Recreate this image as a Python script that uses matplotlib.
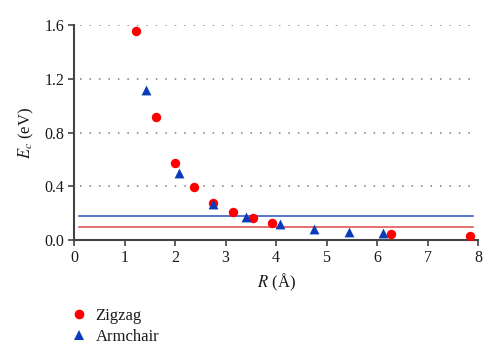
import matplotlib.pyplot as plt
from matplotlib.lines import Line2D

plt.rcParams['font.family'] = ['Liberation Serif', 'DejaVu Serif']
plt.rcParams['mathtext.fontset'] = 'stix'

# data
zigzag_R = [1.23, 1.62, 2.00, 2.38, 2.76, 3.15, 3.55, 3.93, 6.28, 7.85]
zigzag_E = [1.56, 0.92, 0.575, 0.395, 0.275, 0.208, 0.166, 0.128, 0.049, 0.030]
armchair_R = [1.42, 2.07, 2.75, 3.41, 4.08, 4.76, 5.44, 6.11]
armchair_E = [1.12, 0.50, 0.27, 0.175, 0.118, 0.084, 0.062, 0.057]
armchair_level = 0.178
zigzag_level = 0.096
line_span = [0.1, 7.9]

fig = plt.figure(figsize=(5.0, 3.59), dpi=100)
ax = fig.add_axes([0.148, 0.331, 0.808, 0.599])

for y in [0.4, 0.8, 1.2, 1.6]:
    ax.plot([0.12, 7.92], [y, y], color='#7a7a7a', lw=1.1, ls=(0, (1, 5.2)), zorder=1)

ax.plot(line_span, [armchair_level] * 2, color='#2b4fc0', lw=1.1, zorder=2)
ax.plot(line_span, [zigzag_level] * 2, color='#e04848', lw=1.1, zorder=2)

ax.scatter(zigzag_R, zigzag_E, s=46, marker='o', color='#ff0000', zorder=3, linewidths=0)
ax.scatter(armchair_R, armchair_E, s=50, marker='^', color='#0a3bb8', zorder=4, linewidths=0)

ax.set_xlim(0, 8)
ax.set_ylim(0, 1.6)
ax.set_xticks(range(0, 9))
ax.set_yticks([0.0, 0.4, 0.8, 1.2, 1.6])
ax.set_yticklabels(['0.0', '0.4', '0.8', '1.2', '1.6'])
for side in ['top', 'right']:
    ax.spines[side].set_visible(False)
for side in ['left', 'bottom']:
    ax.spines[side].set_color('#444444')
    ax.spines[side].set_linewidth(1.5)
ax.tick_params(direction='out', length=4, width=1.2, color='#444444',
               labelsize=11.5, labelcolor='#1a1a1a', pad=3)

ax.set_xlabel(r'$R$ (Å)', fontsize=12, labelpad=4, color='#1a1a1a')
ax.set_ylabel(r'$E_c$ (eV)', fontsize=12, labelpad=6, color='#1a1a1a')

handles = [
    Line2D([], [], ls='none', marker='o', color='#ff0000', markersize=7, markeredgewidth=0),
    Line2D([], [], ls='none', marker='^', color='#0a3bb8', markersize=7, markeredgewidth=0),
]
fig.legend(handles, ['Zigzag', 'Armchair'], loc='upper left', bbox_to_anchor=(0.128, 0.16),
           frameon=False, fontsize=12, handletextpad=0.5, labelspacing=0.3,
           handlelength=1.0, borderaxespad=0, labelcolor='#1a1a1a')

fig.savefig('out.png', dpi=100)
